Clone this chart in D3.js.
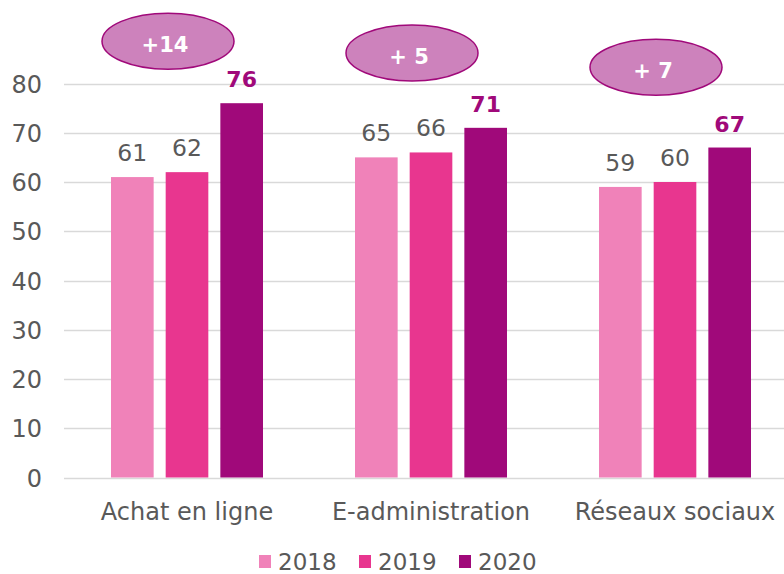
<!DOCTYPE html>
<html>
<head>
<meta charset="utf-8">
<script src="https://cdn.jsdelivr.net/npm/d3@7"></script>
<style>
  body { margin: 0; background: #fff; }
  text { font-family: Verdana, "DejaVu Sans", sans-serif; }
</style>
</head>
<body>
<div id="chart"></div>
<script>
const categories = ["Achat en ligne", "E-administration", "Réseaux sociaux"]
const years = ["2018", "2019", "2020"]
const values2018 = [61, 65, 59]
const values2019 = [62, 66, 60]
const values2020 = [76, 71, 67]
const diffLabels = ["+14", "+ 5", "+ 7"]
// where the bubbles sit, in axis units
const diffLevels = [88.6, 86.2, 83.3]
const yTicks = [0, 10, 20, 30, 40, 50, 60, 70, 80]

const colors = { "2018": "#f082b9", "2019": "#e8368f", "2020": "#a0097a" }
const GREY = "#595959"

const W = 784, H = 574
const svg = d3.select("#chart").append("svg")
  .attr("width", W)
  .attr("height", H)

const series = years.map((y, i) => ({ year: y, values: [values2018, values2019, values2020][i] }))

// Scales
const y = d3.scaleLinear()
  .domain([0, 80])
  .range([477.5, 83.5])

const x0 = d3.scaleBand()
  .domain(categories)
  .range([65, 797])

const x1 = d3.scaleBand()
  .domain(years)
  .range([0, 152])
  .paddingInner(0.22)

const groupOffset = (x0.bandwidth() - 152) / 2

// Grid lines
svg.append("g")
  .selectAll("line")
  .data(yTicks)
  .join("line")
    .attr("x1", 64)
    .attr("x2", W)
    .attr("y1", d => Math.round(y(d)) + 0.5)
    .attr("y2", d => Math.round(y(d)) + 0.5)
    .attr("stroke", "#d9d9d9")
    .attr("stroke-width", 1.5)

// Y Axis
const yAxisCall = d3.axisLeft(y)
  .tickValues(yTicks)
  .tickSize(0)
  .tickPadding(0)
const yAxis = svg.append("g")
  .attr("transform", "translate(42, 0)")
  .call(yAxisCall)
yAxis.select(".domain").remove()
yAxis.selectAll("text")
  .attr("fill", GREY)
  .attr("font-size", "24px")
  .attr("font-family", "Verdana, 'DejaVu Sans', sans-serif")
  .attr("dy", "0.36em")

// X Axis labels
const xAxisCall = d3.axisBottom(x0).tickSize(0).tickPadding(0)
const xAxis = svg.append("g")
  .attr("transform", `translate(0, ${y(0) + 25})`)
  .call(xAxisCall)
xAxis.select(".domain").remove()
xAxis.selectAll("text")
  .attr("fill", GREY)
  .attr("font-size", "24px")
  .attr("font-family", "Verdana, 'DejaVu Sans', sans-serif")
  .attr("dy", "0.71em")

// Bars
const groups = svg.append("g")
  .selectAll("g")
  .data(series)
  .join("g")

groups.selectAll("rect")
  .data(s => s.values.map((v, i) => ({ year: s.year, cat: categories[i], value: v })))
  .join("rect")
    .attr("x", d => x0(d.cat) + groupOffset + x1(d.year))
    .attr("y", d => y(d.value))
    .attr("width", x1.bandwidth())
    .attr("height", d => y(0) - y(d.value))
    .attr("fill", d => colors[d.year])

// Value labels
groups.selectAll("text")
  .data(s => s.values.map((v, i) => ({ year: s.year, cat: categories[i], value: v })))
  .join("text")
    .attr("x", d => x0(d.cat) + groupOffset + x1(d.year) + x1.bandwidth() / 2)
    .attr("y", d => y(d.value) - 16)
    .attr("text-anchor", "middle")
    .attr("font-size", d => d.year === "2020" ? "22px" : "23.5px")
    .attr("font-weight", d => d.year === "2020" ? "bold" : "normal")
    .attr("fill", d => d.year === "2020" ? colors["2020"] : GREY)
    .text(d => d.value)

// Difference bubbles
const bubbles = svg.append("g")
  .selectAll("g")
  .data(categories)
  .join("g")
    .attr("transform", (c, i) => `translate(${x0(c) + x0.bandwidth() / 2 - 19}, ${y(diffLevels[i])})`)

bubbles.append("ellipse")
  .attr("rx", 66)
  .attr("ry", 28)
  .attr("fill", "#cd82bc")
  .attr("stroke", "#a0097a")
  .attr("stroke-width", 1.5)

bubbles.append("text")
  .attr("x", -3)
  .attr("y", 11)
  .attr("text-anchor", "middle")
  .attr("font-size", "21px")
  .attr("font-weight", "bold")
  .attr("fill", "#fff")
  .text((c, i) => diffLabels[i])

// Legend
const legend = svg.append("g")
  .attr("transform", "translate(259, 555)")

years.forEach((yr, i) => {
  const row = legend.append("g")
    .attr("transform", `translate(${i * 100}, 0)`)

  row.append("rect")
    .attr("width", 12)
    .attr("height", 13)
    .attr("fill", colors[yr])

  row.append("text")
    .attr("x", 19)
    .attr("y", 15)
    .attr("font-size", "23px")
    .attr("fill", GREY)
    .text(yr)
})
</script>
</body>
</html>
